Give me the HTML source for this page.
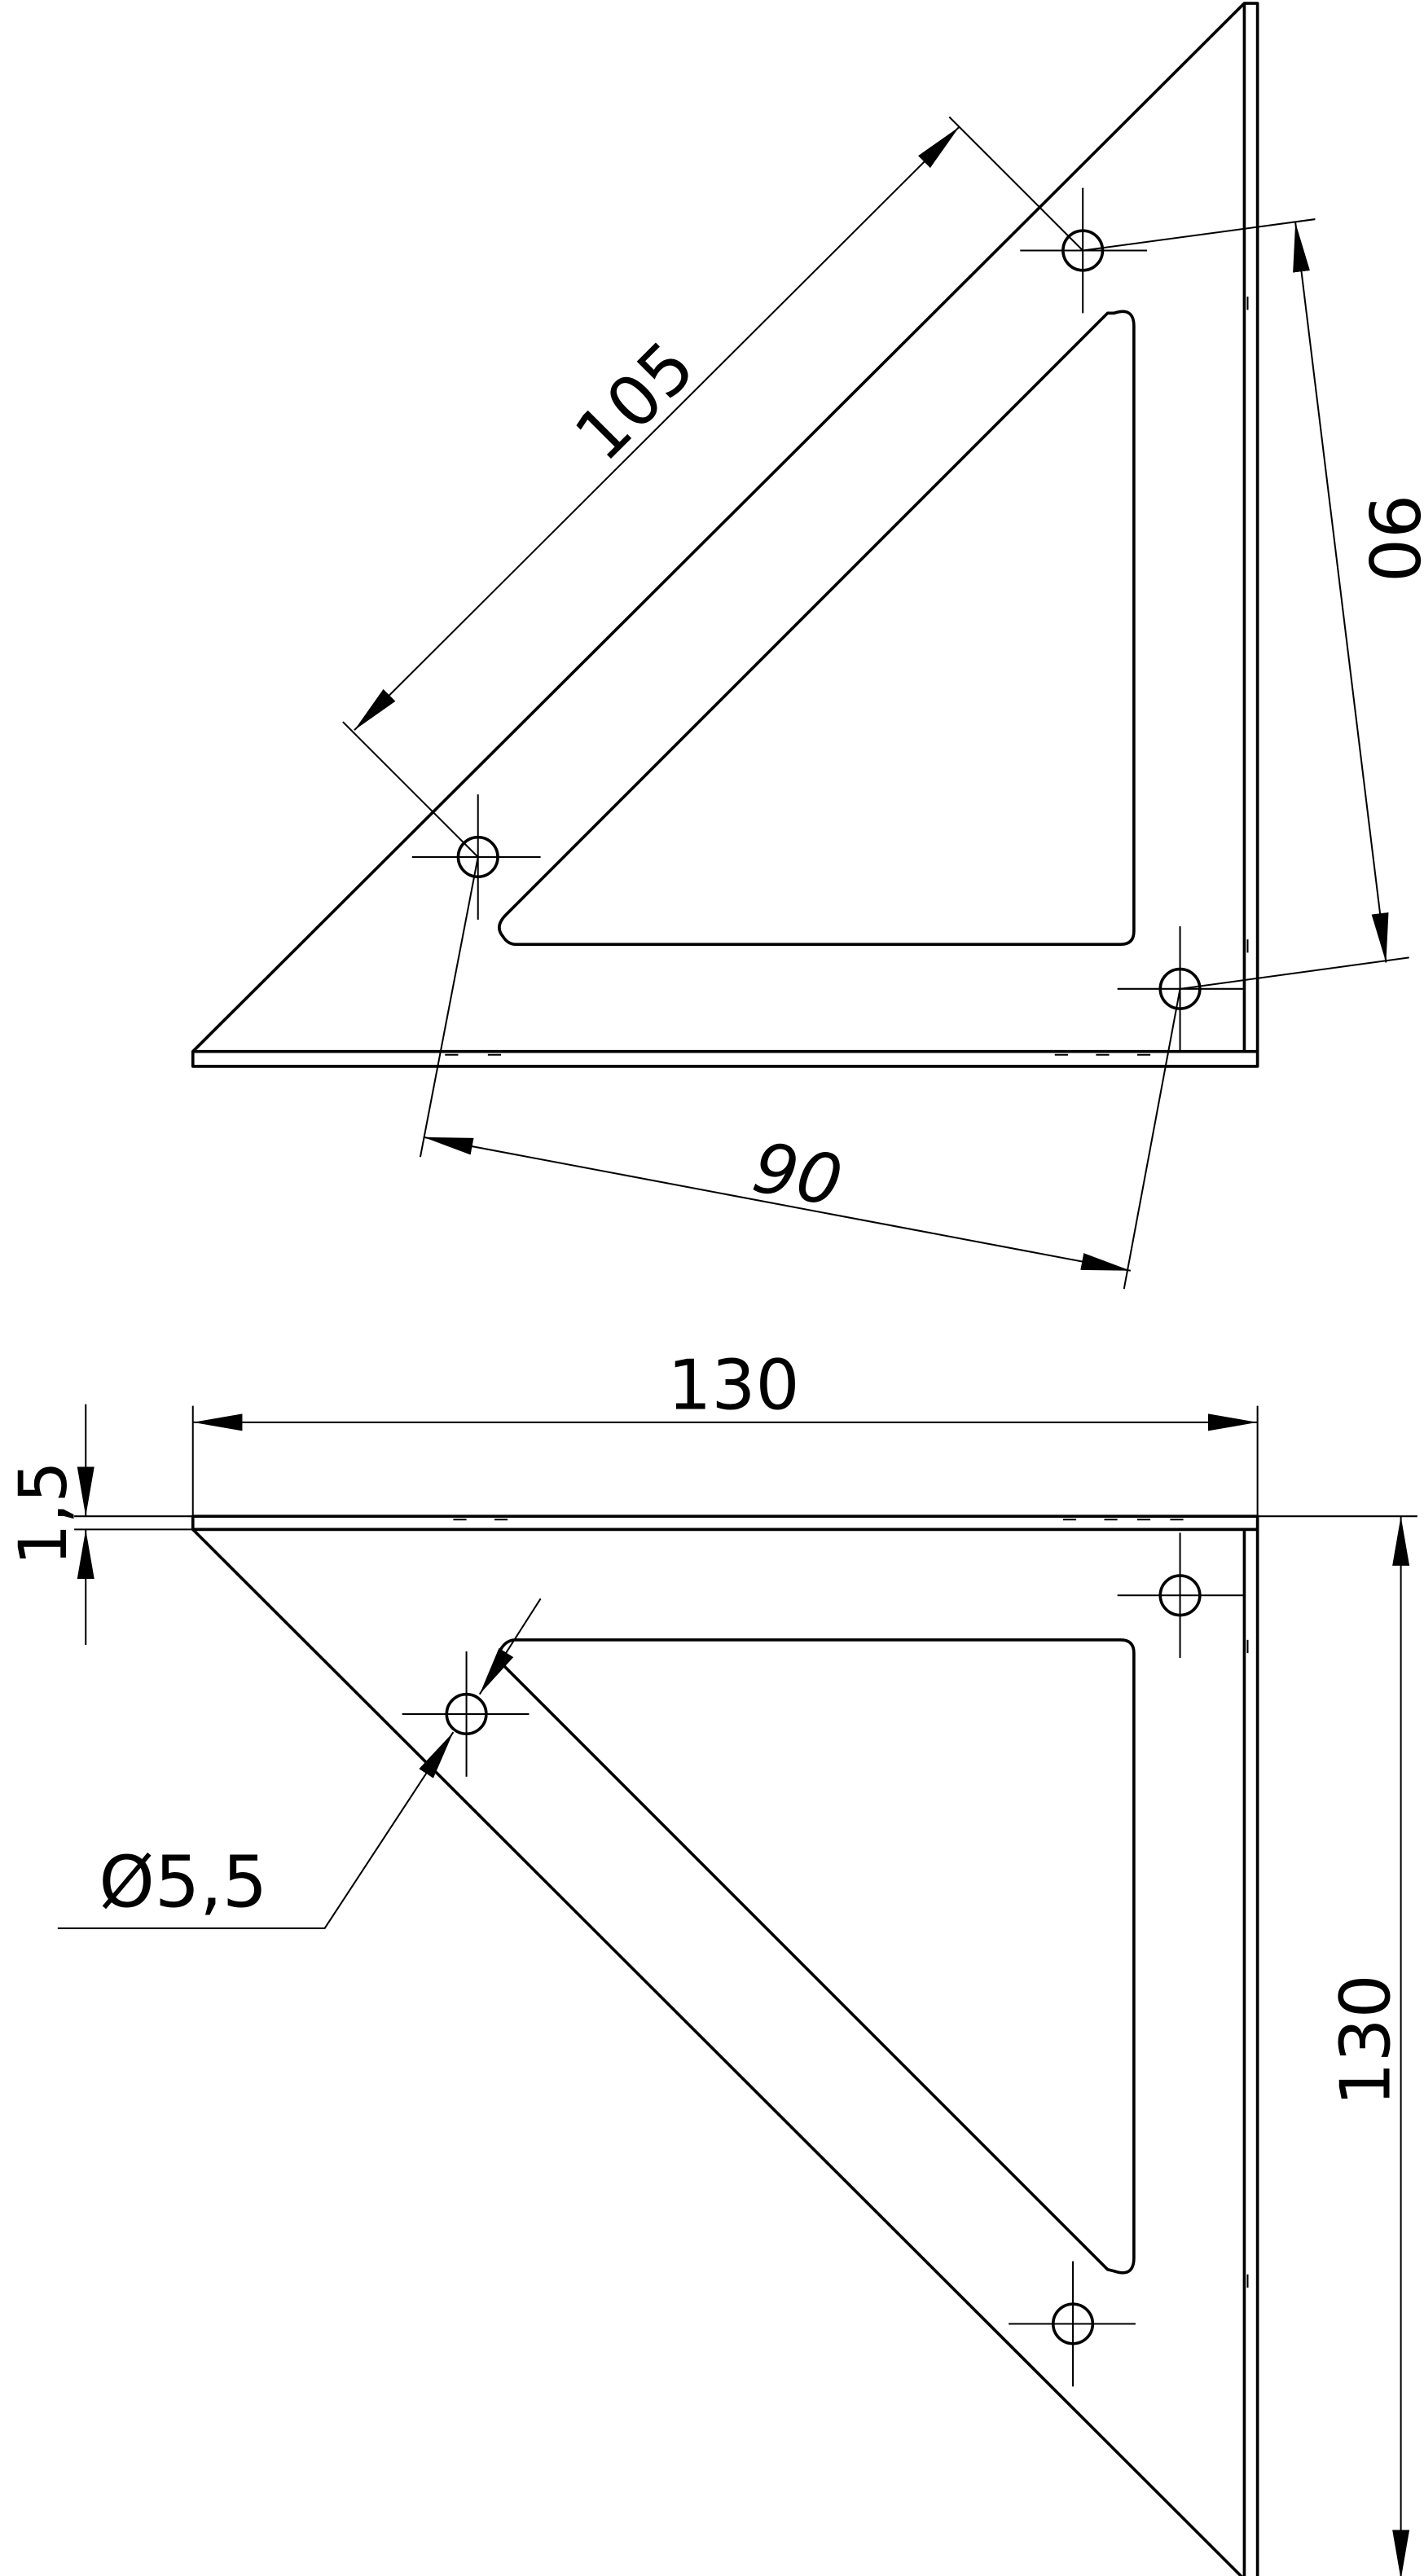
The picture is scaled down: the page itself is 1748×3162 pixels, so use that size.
<!DOCTYPE html>
<html><head><meta charset="utf-8"><style>
html,body{margin:0;padding:0;background:#fff;}
svg{display:block;}
text{font-family:"DejaVu Sans","Liberation Sans",sans-serif;fill:#000;}
</style></head><body>
<svg width="1748" height="3162" viewBox="0 0 864 1563" xmlns="http://www.w3.org/2000/svg">
<defs>
<marker id="a" markerUnits="userSpaceOnUse" markerWidth="30" markerHeight="12" refX="26" refY="4.5" orient="auto-start-reverse" viewBox="0 0 26 9">
<path d="M0,0 L26,4.5 L0,9 Z" fill="#000"/>
</marker>
</defs>
<g fill="none" stroke="#000" stroke-width="1.8" stroke-linejoin="round">
<!-- TOP VIEW -->
<path d="M117,638 L755,2 L763,2 L763,647 L117,647 Z"/>
<line x1="755" y1="2" x2="755" y2="638"/>
<line x1="117" y1="638" x2="763" y2="638"/>
<path d="M313,573 L680,573 Q688,573 688,565 L688,198 Q688,186 676,190 L672,190 L307,555 Q300,562 305,568 Q308,573 313,573 Z"/>
<circle cx="290" cy="520" r="12"/>
<circle cx="657" cy="152" r="12"/>
<circle cx="716" cy="600" r="12"/>
<!-- BOTTOM VIEW -->
<path d="M117,920 L763,920 L763,1565 L755,1565 L117,928 Z"/>
<line x1="117" y1="928" x2="763" y2="928"/>
<line x1="755" y1="928" x2="755" y2="1565"/>
<path d="M313,995 L680,995 Q688,995 688,1003 L688,1370 Q688,1382 676,1378 L672,1377 L307,1012 Q300,1005 305,999 Q308,995 313,995 Z"/>
<circle cx="283" cy="1040" r="12"/>
<circle cx="716" cy="968" r="12"/>
<circle cx="651" cy="1410" r="12"/>
</g>
<g fill="none" stroke="#000" stroke-width="1">
<path d="M250,520 H328 M290,482 V558"/>
<path d="M619,152 H696 M657,114 V190"/>
<path d="M678,600 H755 M716,562 V638"/>
<path d="M244,1040 H321 M283,1002 V1078"/>
<path d="M678,968 H755 M716,930 V1006"/>
<path d="M612,1410 H689 M651,1372 V1448"/>
<path d="M757,180 v8 M757,570 v8 M270,640 h8 M296,640 h8 M640,640 h8 M665,640 h8 M690,640 h8" />
<path d="M275,922 h8 M300,922 h8 M645,922 h8 M670,922 h8 M690,922 h8 M710,922 h8 M757,995 v8 M757,1380 v8"/>
<line x1="290" y1="520" x2="208" y2="438"/>
<line x1="657" y1="152" x2="576" y2="71"/>
<line x1="215" y1="443" x2="582" y2="77" marker-start="url(#a)" marker-end="url(#a)"/>
<line x1="657" y1="152" x2="798" y2="133"/>
<line x1="716" y1="600" x2="855" y2="581"/>
<line x1="786" y1="135" x2="841" y2="584" marker-start="url(#a)" marker-end="url(#a)"/>
<line x1="290" y1="520" x2="255" y2="702"/>
<line x1="716" y1="600" x2="682" y2="782"/>
<line x1="257" y1="690" x2="686" y2="771" marker-start="url(#a)" marker-end="url(#a)"/>
<line x1="117" y1="853" x2="117" y2="920"/>
<line x1="763" y1="853" x2="763" y2="920"/>
<line x1="117" y1="863" x2="763" y2="863" marker-start="url(#a)" marker-end="url(#a)"/>
<line x1="763" y1="920" x2="860" y2="920"/>
<line x1="763" y1="1565" x2="860" y2="1565"/>
<line x1="850" y1="920" x2="850" y2="1565" marker-start="url(#a)" marker-end="url(#a)"/>
<line x1="45" y1="920" x2="117" y2="920"/>
<line x1="45" y1="928" x2="117" y2="928"/>
<line x1="52" y1="852" x2="52" y2="920" marker-end="url(#a)"/>
<line x1="52" y1="998" x2="52" y2="928" marker-end="url(#a)"/>
<polyline points="35,1170 197,1170 275,1051" marker-end="url(#a)"/>
<line x1="328" y1="970" x2="291" y2="1028" marker-end="url(#a)"/>
</g>
<text x="0" y="0" font-size="42" transform="translate(367,282) rotate(-45)">105</text>
<text x="0" y="0" font-size="42" transform="translate(831,300) rotate(90)">90</text>
<text x="0" y="0" font-size="42" font-style="italic" transform="translate(455,722) rotate(10.5)">90</text>
<text x="405" y="855" font-size="42">130</text>
<text x="0" y="0" font-size="42" transform="translate(843,1278) rotate(-90)">130</text>
<text x="0" y="0" font-size="40" transform="translate(40,950) rotate(-90)">1,5</text>
<text x="60" y="1157" font-size="43">Ø5,5</text>
</svg>
</body></html>
